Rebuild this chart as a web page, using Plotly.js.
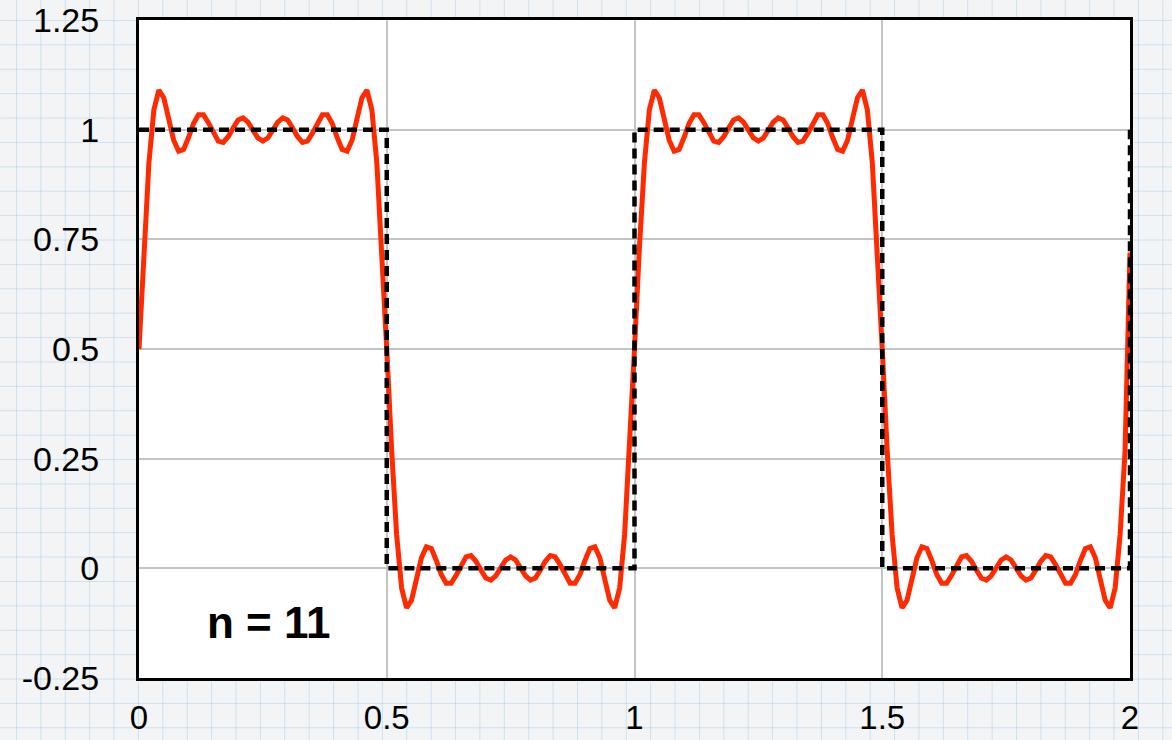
<!DOCTYPE html>
<html>
<head>
<meta charset="utf-8">
<script src="https://cdn.plot.ly/plotly-3.0.1.min.js"></script>
<style>
  html, body {
    margin: 0;
    padding: 0;
    width: 1172px;
    height: 740px;
    overflow: hidden;
    background-color: #f3f4f5;
    background-image:
      linear-gradient(to right, rgba(150, 196, 228, 0.4) 1px, transparent 1px),
      linear-gradient(to bottom, rgba(150, 196, 228, 0.4) 1px, transparent 1px);
    background-size: 24.4px 24.4px;
    background-position: 16px 20px;
  }
  #chart { width: 1172px; height: 740px; }
</style>
</head>
<body>
<div id="chart"></div>
<script>
// Partial Fourier sum of a square wave (odd harmonics up to n = 11),
// sampled every 0.01 on [0, 2]; one array per half period.
const sampleStart = 0;
const sampleStep = 0.01;

const highHalf1 = [0.500, 0.733, 0.924, 1.045, 1.090, 1.073, 1.025, 0.976, 0.951, 0.955,
  0.982, 1.014, 1.034, 1.034, 1.016, 0.992, 0.974, 0.971, 0.984, 1.004,
  1.022, 1.027, 1.017, 0.999, 0.981, 0.974, 0.981, 0.999, 1.017, 1.027,
  1.022, 1.004, 0.984, 0.971, 0.974, 0.992, 1.016, 1.034, 1.034, 1.014,
  0.982, 0.955, 0.951, 0.976, 1.025, 1.073, 1.090, 1.045, 0.924, 0.733];

const lowHalf1 = [0.500, 0.267, 0.076, -0.045, -0.090, -0.073, -0.025, 0.024, 0.049, 0.045,
  0.018, -0.014, -0.034, -0.034, -0.016, 0.008, 0.026, 0.029, 0.016, -0.004,
  -0.022, -0.027, -0.017, 0.001, 0.019, 0.026, 0.019, 0.001, -0.017, -0.027,
  -0.022, -0.004, 0.016, 0.029, 0.026, 0.008, -0.016, -0.034, -0.034, -0.014,
  0.018, 0.045, 0.049, 0.024, -0.025, -0.073, -0.090, -0.045, 0.076, 0.267];

const highHalf2 = [0.500, 0.733, 0.924, 1.045, 1.090, 1.073, 1.025, 0.976, 0.951, 0.955,
  0.982, 1.014, 1.034, 1.034, 1.016, 0.992, 0.974, 0.971, 0.984, 1.004,
  1.022, 1.027, 1.017, 0.999, 0.981, 0.974, 0.981, 0.999, 1.017, 1.027,
  1.022, 1.004, 0.984, 0.971, 0.974, 0.992, 1.016, 1.034, 1.034, 1.014,
  0.982, 0.955, 0.951, 0.976, 1.025, 1.073, 1.090, 1.045, 0.924, 0.733];

const lowHalf2 = [0.500, 0.267, 0.076, -0.045, -0.090, -0.073, -0.025, 0.024, 0.049, 0.045,
  0.018, -0.014, -0.034, -0.034, -0.016, 0.008, 0.026, 0.029, 0.016, -0.004,
  -0.022, -0.027, -0.017, 0.001, 0.019, 0.026, 0.019, 0.001, -0.017, -0.027,
  -0.022, -0.004, 0.016, 0.029, 0.026, 0.008, -0.016, -0.034, -0.034, -0.014,
  0.018, 0.045, 0.049, 0.024, -0.025, -0.073, -0.090, -0.045, 0.076, 0.267,
  0.720];

// Ideal square wave
const squareX = [0, 0.5, 0.5, 1, 1, 1.5, 1.5, 2, 2];
const squareY = [1, 1, 0, 0, 1, 1, 0, 0, 1];

// Axis ticks
const xTickVals = [0, 0.5, 1, 1.5, 2];
const xTickText = ['0', '0.5', '1', '1.5', '2'];
const yTickVals = [-0.25, 0, 0.25, 0.5, 0.75, 1, 1.25];
const yTickText = ['-0.25', '0', '0.25', '0.5', '0.75', '1', '1.25'];

const seriesLabel = 'n = 11';

const fourierY = [].concat(highHalf1, lowHalf1, highHalf2, lowHalf2);

const fontFamily = 'Liberation Sans, Arial, Helvetica, sans-serif';

const traces = [
  {
    type: 'scatter',
    mode: 'lines',
    x0: sampleStart,
    dx: sampleStep,
    y: fourierY,
    line: { color: '#ff2a00', width: 5 },
    hoverinfo: 'skip'
  },
  {
    type: 'scatter',
    mode: 'lines',
    x: squareX,
    y: squareY,
    line: { color: '#000000', width: 4.5, dash: '10px,6px' },
    hoverinfo: 'skip'
  }
];

const layout = {
  width: 1172,
  height: 740,
  margin: { l: 139, r: 42, t: 20, b: 62 },
  paper_bgcolor: 'rgba(0,0,0,0)',
  plot_bgcolor: '#ffffff',
  showlegend: false,
  font: { family: fontFamily, color: '#000000' },
  xaxis: {
    range: [0, 2],
    tickmode: 'array',
    tickvals: xTickVals,
    ticktext: xTickText,
    ticks: '',
    ticklabelstandoff: 8,
    tickfont: { size: 33, family: fontFamily, color: '#000' },
    showgrid: true,
    gridcolor: '#c4c4c4',
    gridwidth: 2,
    zeroline: false,
    showline: true,
    mirror: true,
    linecolor: '#000000',
    linewidth: 3,
    fixedrange: true
  },
  yaxis: {
    range: [-0.25, 1.25],
    tickmode: 'array',
    tickvals: yTickVals,
    ticktext: yTickText,
    ticks: '',
    ticklabelstandoff: 30,
    tickfont: { size: 34, family: fontFamily, color: '#000' },
    showgrid: true,
    gridcolor: '#c4c4c4',
    gridwidth: 2,
    zeroline: false,
    showline: true,
    mirror: true,
    linecolor: '#000000',
    linewidth: 3,
    fixedrange: true
  },
  annotations: [
    {
      xref: 'x',
      yref: 'y',
      x: 0.262,
      y: -0.123,
      text: '<b>' + seriesLabel + '</b>',
      showarrow: false,
      font: { size: 44, family: fontFamily, color: '#000000' },
      xanchor: 'center',
      yanchor: 'middle'
    }
  ]
};

Plotly.newPlot('chart', traces, layout, { staticPlot: true, displayModeBar: false });
</script>
</body>
</html>
